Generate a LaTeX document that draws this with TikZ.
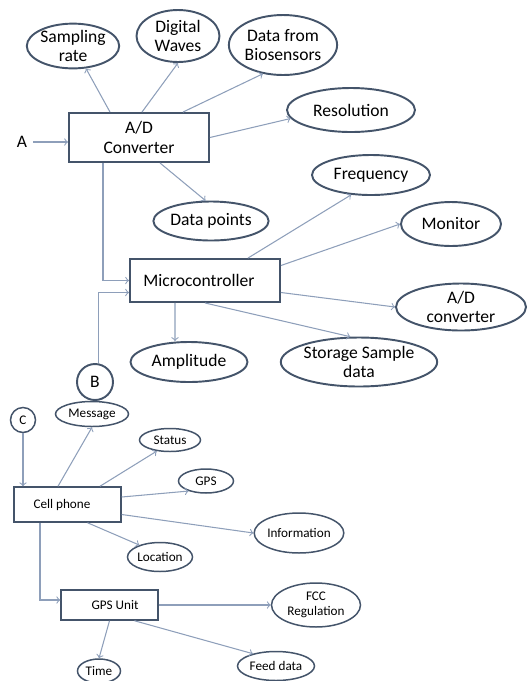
\documentclass[tikz,border=0pt]{standalone}
\usepackage{fontspec}
\setmainfont{Carlito}
\usetikzlibrary{shapes.geometric}
\definecolor{edgeblue}{HTML}{44546A}
\definecolor{lineblue}{HTML}{8E9FBA}

\begin{document}
\begin{tikzpicture}[x=0.02cm, y=-0.02cm,
    box/.style={draw=edgeblue, line width=1.1pt, rectangle, inner sep=0pt, align=center,
        font=\fontsize{10}{11}\selectfont},
    bubble/.style={draw=edgeblue, line width=1.1pt, ellipse, inner sep=0pt, align=center,
        font=\fontsize{10}{11}\selectfont},
    smallbox/.style={box, line width=0.85pt, font=\fontsize{7.5}{8.5}\selectfont},
    smallbubble/.style={bubble, line width=0.85pt, font=\fontsize{7.5}{8.5}\selectfont},
    arr/.style={->, draw=lineblue, line width=0.6pt}]
    \useasboundingbox (0,0) rectangle (527,681);

    % upper part
    \node[box, minimum width=2.8cm, minimum height=0.98cm] (adc) at (139,137.5) {A/D\\Converter};
    \node (inA) at (22,142) {\fontsize{10}{11}\selectfont A};
    \node[bubble, minimum width=1.66cm, minimum height=0.74cm] (srate) at (73,46) {Sampling\\rate};
    \node[bubble, minimum width=1.66cm, minimum height=1.04cm] (dwave) at (178,36) {Digital\\Waves};
    \node[bubble, minimum width=1.94cm, minimum height=1.2cm] (biosens) at (283,45) {Data from\\Biosensors};
    \node[bubble, minimum width=2.56cm, minimum height=0.88cm] (resol) at (351,110) {Resolution};
    \node[bubble, minimum width=2.14cm, minimum height=0.78cm] (dpoints) at (211,221) {Data points};

    \node[box, minimum width=3.0cm, minimum height=0.86cm] (mc) at (205,280.5) {Microcontroller\hspace*{0.24cm}};
    \node[bubble, minimum width=2.36cm, minimum height=0.8cm] (freq) at (371,175) {Frequency};
    \node[bubble, minimum width=2.0cm, minimum height=0.88cm] (mon) at (451,224) {Monitor};
    \node[bubble, minimum width=2.6cm, minimum height=0.94cm] (adconv) at (461,307) {A/D\\converter};
    \node[bubble, minimum width=2.34cm, minimum height=0.8cm] (amp) at (189,362) {Amplitude};
    \node[bubble, minimum width=3.0cm, minimum height=0.98cm] (store) at (359,362) {Storage Sample\\data};
    \node[bubble, circle, minimum size=0.72cm] (inB) at (95,382) {B};

    \draw[arr] (inA.east) -- (inA.east -| adc.west);
    \draw[arr] ([xshift=-0.58cm]adc.north) -- (srate.-60);
    \draw[arr] ([xshift=0.06cm]adc.north) -- (dwave.south);
    \draw[arr] ([xshift=0.88cm]adc.north) -- (biosens.-125);
    \draw[arr] (adc.east) -- (resol.188);
    \draw[arr] ([xshift=0.42cm]adc.south) -- (dpoints.105);
    \draw[arr] ([xshift=-0.72cm]adc.south) |- (mc.west);
    \draw[arr] (inB.80) |- ([yshift=-0.24cm]mc.west);

    \draw[arr] ([xshift=0.86cm]mc.north) -- (freq.225);
    \draw[arr] ([yshift=0.3cm]mc.east) -- (mon.west);
    \draw[arr] ([yshift=-0.24cm]mc.east) -- (adconv.west);
    \draw[arr] (mc.south) -- (store.109);
    \draw[arr] ([xshift=-0.6cm]mc.south) -- ([xshift=-0.28cm]amp.north);

    % lower part
    \node[smallbox, minimum width=2.14cm, minimum height=0.7cm] (cell) at (67.5,504.5) {Cell phone\hspace*{0.22cm}};
    \node[smallbubble, circle, minimum size=0.5cm] (inC) at (23,420) {C};
    \node[smallbubble, minimum width=1.46cm, minimum height=0.5cm] (msg) at (92,414) {Message};
    \node[smallbubble, minimum width=1.22cm, minimum height=0.46cm] (status) at (170,440) {Status};
    \node[smallbubble, minimum width=1.1cm, minimum height=0.48cm] (gps) at (206,481) {GPS};
    \node[smallbubble, minimum width=1.76cm, minimum height=0.8cm] (info) at (299,533) {Information};
    \node[smallbubble, minimum width=1.3cm, minimum height=0.58cm] (loc) at (160,557) {Location};

    \node[smallbox, minimum width=1.94cm, minimum height=0.6cm] (gpsu) at (109.5,605) {\hspace*{0.22cm}GPS Unit};
    \node[smallbubble, minimum width=1.78cm, minimum height=0.88cm] (fcc) at (316,605) {FCC\\Regulation};
    \node[smallbubble, minimum width=0.86cm, minimum height=0.48cm] (time) at (99,671) {Time};
    \node[smallbubble, minimum width=1.54cm, minimum height=0.58cm] (feed) at (276,666) {Feed data};

    \draw[arr] (inC.south) -- (inC.south |- cell.north);
    \draw[arr] ([xshift=-0.19cm]cell.north) -- (msg.south);
    \draw[arr] ([xshift=0.65cm]cell.north) -- (status.220);
    \draw[arr] ([yshift=0.15cm]cell.east) -- (gps.210);
    \draw[arr] ([yshift=-0.2cm]cell.east) -- (info.west);
    \draw[arr] ([xshift=0.4cm]cell.south) -- (loc.150);
    \draw[arr] ([xshift=-0.55cm]cell.south) |- ([yshift=0.1cm]gpsu.west);

    \draw[arr] (gpsu.east) -- (fcc.west);
    \draw[arr] (gpsu.south) -- (time.north);
    \draw[arr] ([xshift=0.5cm]gpsu.south) -- (feed.152);
\end{tikzpicture}
\end{document}
